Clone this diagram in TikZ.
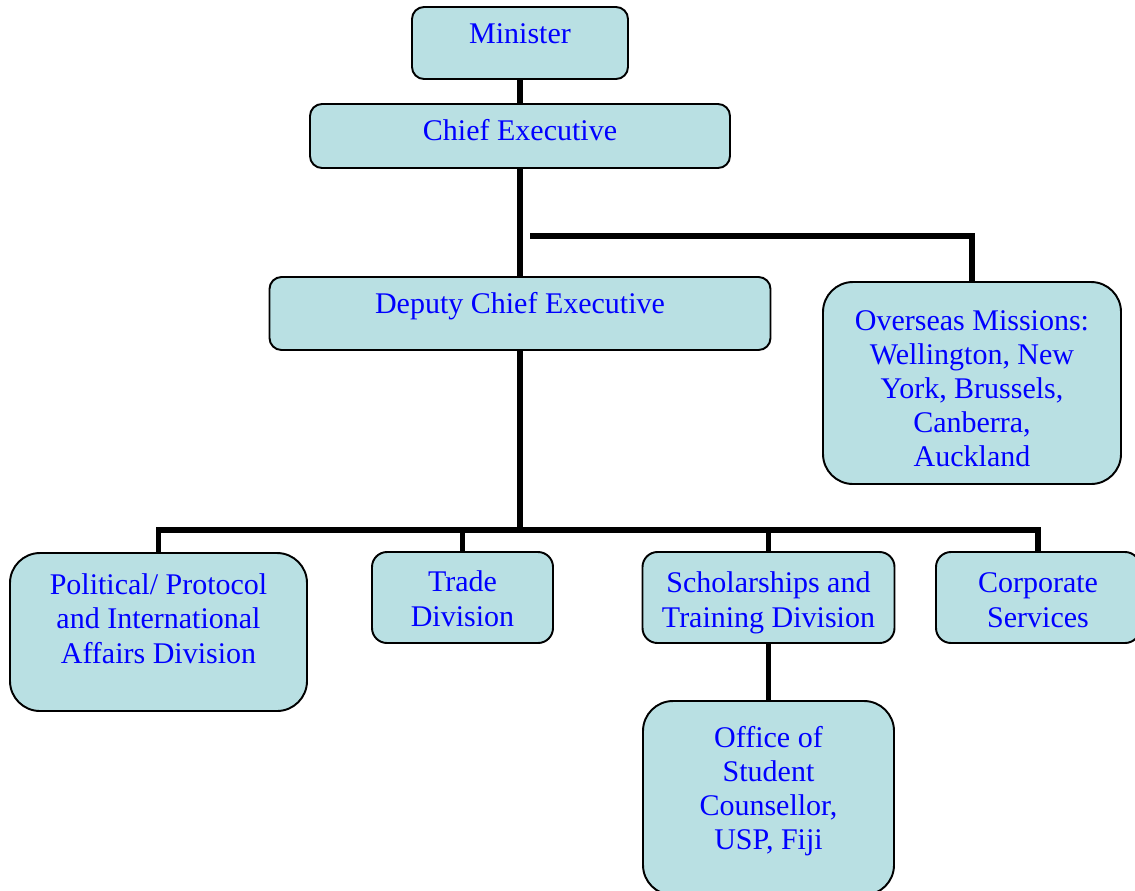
\documentclass[tikz,border=0pt]{standalone}
\usepackage{fontspec}
\setmainfont{Liberation Serif}
\usepackage{tikz}

\definecolor{boxfill}{RGB}{185,224,227}

\tikzset{
	orgbox/.style={draw, line width=1.1pt, fill=boxfill, text=blue, align=center, inner xsep=0pt, inner ysep=0pt, font=\fontsize{17.07pt}{19.4pt}\selectfont},
	link/.style={line width=3pt}
}

\begin{document}
\begin{tikzpicture}
		\useasboundingbox (0,0) rectangle (22.7,-17.8);
		\node (min) at (10.4,-0.86) [orgbox, rounded corners=0.24cm, minimum width=4.32cm, text height=0.72cm, text depth=0.72cm] {Minister};
		\node (ce) at (10.4,-2.72) [orgbox, rounded corners=0.24cm, minimum width=8.4cm, text height=0.72cm, text depth=0.56cm] {Chief Executive};
		\node (dce) at (10.4,-6.27) [orgbox, rounded corners=0.24cm, minimum width=10.02cm, text height=0.72cm, text depth=0.74cm] {Deputy Chief Executive};
		\node (ovs) at (19.44,-7.66) [orgbox, rounded corners=0.6cm, minimum width=5.96cm, text height=3.69cm, text depth=0.35cm] {Overseas Missions:\\ Wellington, New\\ York, Brussels,\\ Canberra,\\ Auckland};
		\node (pol) at (3.17,-12.64) [orgbox, rounded corners=0.6cm, minimum width=5.94cm, text height=2.2cm, text depth=0.96cm] {Political/ Protocol\\ and International\\ Affairs Division};
		\node (trade) at (9.25,-11.95) [orgbox, rounded corners=0.3cm, minimum width=3.62cm, text height=1.48cm, text depth=0.34cm] {Trade\\ Division};
		\node (schol) at (15.37,-11.95) [orgbox, rounded corners=0.3cm, minimum width=5.04cm, text height=1.5cm, text depth=0.32cm] {Scholarships and\\ Training Division};
		\node (corp) at (20.76,-11.95) [orgbox, rounded corners=0.3cm, minimum width=4.08cm, text height=1.5cm, text depth=0.32cm] {Corporate\\ Services};
		\node (office) at (15.37,-15.96) [orgbox, rounded corners=0.6cm, minimum width=5.02cm, text height=2.97cm, text depth=0.91cm] {Office of\\ Student\\ Counsellor,\\ USP, Fiji};
		\coordinate (branch) at (10.6,-4.72);
		\coordinate (bus) at (10.4,-10.6);
		\draw[link] (min) -- (ce);
		\draw[link] (ce) -- (dce);
		\draw[link] (branch) -| (ovs);
		\draw[link] (dce) -- (bus);
		\draw[link] (pol) |- (bus) -| (corp);
		\foreach \n in {trade, schol}
			\draw[link] (\n) -- (\n |- bus);
		\draw[link] (schol) -- (office);
	\end{tikzpicture}
\end{document}
